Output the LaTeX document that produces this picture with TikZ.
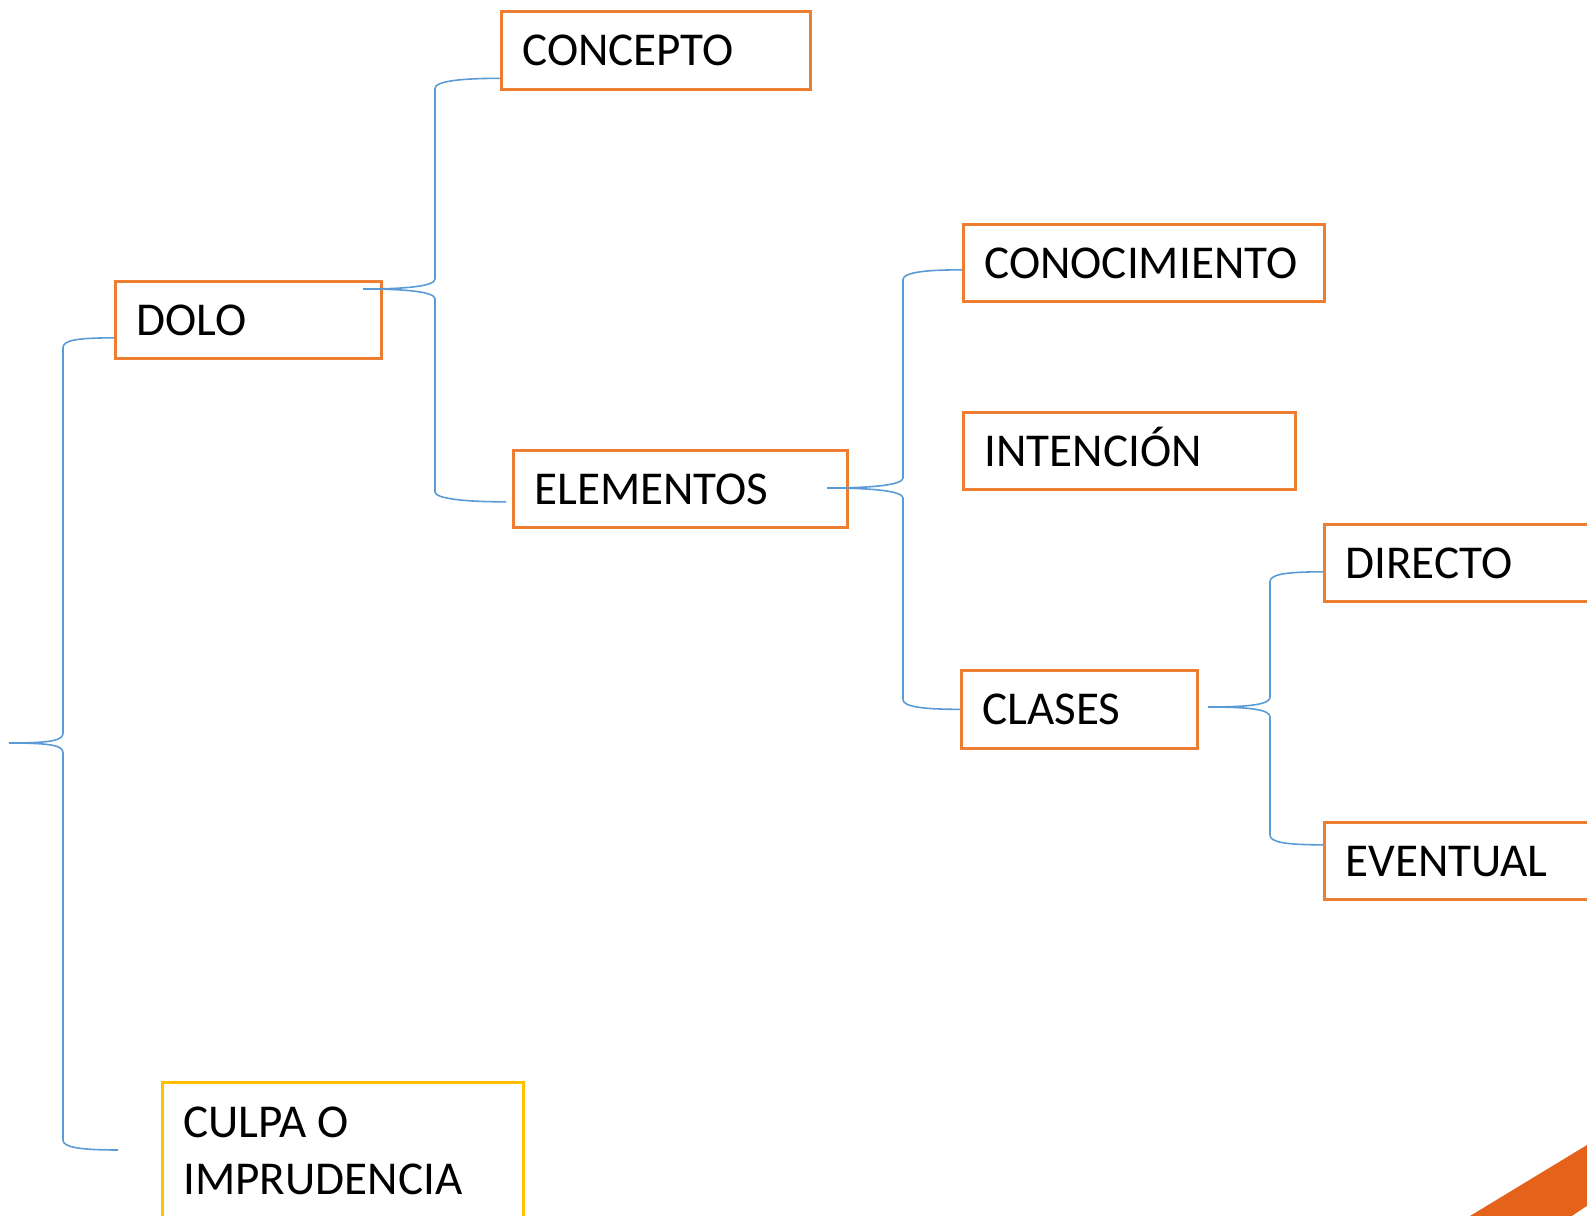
\documentclass[tikz,border=0pt]{standalone}
\usepackage{fontspec}
\setmainfont{Carlito}
\usetikzlibrary{calc}
\definecolor{boxorange}{RGB}{237,125,49}
\definecolor{boxyellow}{RGB}{255,192,0}
\definecolor{braceblue}{RGB}{91,155,213}
\definecolor{decor}{RGB}{228,98,26}

\tikzset{
  box/.style={draw=boxorange, line width=0.75pt, anchor=north west, align=flush left,
    inner xsep=0.21cm, inner ysep=0pt, minimum height=0.77cm,
    font=\fontsize{13.4}{16}\selectfont},
  boxline/.style={box, text height=0.31cm, text depth=0pt},
  brace/.style={braceblue, line width=0.45pt},
}

% tip, spine, top end, bottom end
\newcommand{\drawbrace}[4]{%
  \draw[brace] (#3) .. controls +(-40,0) and +(0,-7) .. ($(#2 |- #3)+(0,10)$)
    -- ($(#2 |- #1)+(0,-10)$) .. controls +(0,7) and +(45,0) .. (#1)
    .. controls +(45,0) and +(0,-7) .. ($(#2 |- #1)+(0,10)$)
    -- ($(#2 |- #4)+(0,-10)$) .. controls +(0,7) and +(-40,0) .. (#4);
}

\begin{document}
\begin{tikzpicture}[x=0.01cm, y=-0.01cm]
	\useasboundingbox (0,0) rectangle (1587,1216);
	\clip (0,0) rectangle (1587,1216);
	%\draw[help lines] (0,0) grid[step=100] (1587,1216);
	\fill[decor] (1470,1216) -- (1587,1145) -- (1587,1216) -- cycle;
	\fill[white] (1572,1216) -- (1587,1206) -- (1587,1216) -- cycle;

	\node[boxline, text width=2.24cm] (dolo) at (114,280) {DOLO};
	\node[box, draw=boxyellow, text width=3.19cm, inner ysep=0.25cm] (culpa) at (161,1081) {CULPA O\\IMPRUDENCIA};
	\node[boxline, text width=2.67cm, minimum height=0.78cm] (concepto) at (500,10) {CONCEPTO};
	\node[boxline, text width=2.92cm] (elementos) at (512,449) {ELEMENTOS};
	\node[boxline, text width=3.19cm] (conocimiento) at (962,223) {CONOCIMIENTO};
	\node[boxline, text width=2.90cm] (intencion) at (962,411) {INTENCIÓN};
	\node[boxline, text width=1.94cm, minimum height=0.78cm] (clases) at (960,669) {CLASES};
	\node[boxline, text width=3.00cm] (directo) at (1323,523) {DIRECTO};
	\node[boxline, text width=3.00cm] (eventual) at (1323,821) {EVENTUAL};

	\coordinate (traiz) at (9,743);     \coordinate (sraiz) at (63,0);
	\coordinate (tdolo) at (363,289);   \coordinate (sdolo) at (435,0);
	\coordinate (telem) at (827,488);   \coordinate (selem) at (903,0);
	\coordinate (tclases) at (1208,707); \coordinate (sclases) at (1270,0);

	\coordinate (edolo) at ($(dolo.west)+(0,18)$);
	\coordinate (eculpa) at ($(culpa.north west)+(-43,69)$);
	\coordinate (econcepto) at ($(concepto.west)+(0,28)$);
	\coordinate (eelem) at ($(elementos.west)+(-6,13)$);
	\coordinate (econoc) at ($(conocimiento.west)+(0,7)$);
	\coordinate (eclases) at (clases.west);
	\coordinate (edirecto) at ($(directo.west)+(0,9)$);
	\coordinate (eeventual) at ($(eventual.west)+(0,-16)$);

	\drawbrace{traiz}{sraiz}{edolo}{eculpa}
	\drawbrace{tdolo}{sdolo}{econcepto}{eelem}
	\drawbrace{telem}{selem}{econoc}{eclases}
	\drawbrace{tclases}{sclases}{edirecto}{eeventual}
\end{tikzpicture}
\end{document}
